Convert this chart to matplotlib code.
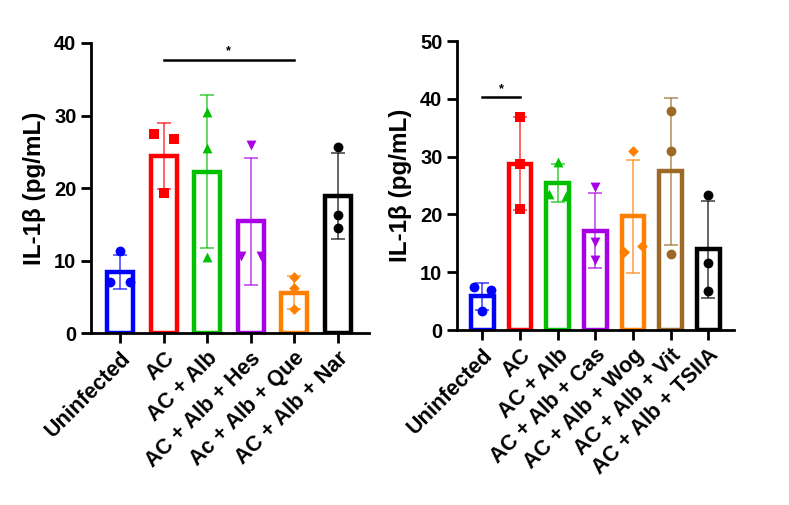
import numpy as np
import matplotlib
matplotlib.use("Agg")
import matplotlib.pyplot as plt

plt.rcParams['font.family'] = ['Liberation Sans', 'DejaVu Sans']
plt.rcParams['font.weight'] = 'bold'

# ---- left panel data ----
groups_a = ['Uninfected', 'AC', 'AC + Alb', 'AC + Alb + Hes', 'Ac + Alb + Que', 'AC + Alb + Nar']
means_a = [8.45, 24.45, 22.25, 15.45, 5.6, 18.9]
sd_a = [2.35, 4.55, 10.55, 8.75, 2.3, 5.9]
points_a = [
    [11.3, 7.1, 7.0],
    [27.5, 26.8, 19.4],
    [30.5, 25.5, 10.5],
    [25.9, 10.7, 10.7],
    [7.7, 6.2, 3.3],
    [25.7, 16.3, 14.5],
]

# ---- right panel data ----
groups_b = ['Uninfected', 'AC', 'AC + Alb', 'AC + Alb + Cas', 'AC + Alb + Wog', 'AC + Alb + Vit', 'AC + Alb + TSIIA']
means_b = [5.8, 28.8, 25.5, 17.2, 19.65, 27.45, 13.95]
sd_b = [2.3, 8.0, 3.3, 6.45, 9.75, 12.75, 8.45]
points_b = [
    [7.5, 6.9, 3.3],
    [36.9, 28.7, 20.9],
    [29.0, 23.5, 23.2],
    [24.8, 15.2, 12.1],
    [30.9, 13.5, 14.5],
    [37.9, 30.9, 13.2],
    [23.3, 11.6, 6.8],
]

colors_a = ['#0000FF', '#FF0000', '#00C000', '#A800E6', '#FF8000', '#000000']
markers_a = ['o', 's', '^', 'v', 'D', 'o']
colors_b = ['#0000FF', '#FF0000', '#00C000', '#A800E6', '#FF8000', '#9C6A26', '#000000']
markers_b = ['o', 's', '^', 'v', 'D', 'o', 'o']


def panel(ax, groups, means, sd, points, colors, markers, ymax, xmax_pad, sig, bw):
    x = np.arange(len(groups))
    ax.bar(x, means, width=bw, facecolor='white', edgecolor=colors, linewidth=3.2, zorder=2)
    thr = 0.028 * ymax
    for i in x:
        ax.errorbar(i, means[i], yerr=sd[i], color=colors[i], alpha=0.65, lw=1.3,
                    capsize=5, capthick=1.3, zorder=3)
        pts = points[i]
        offs = [0.0] * len(pts)
        for a in range(len(pts)):
            for b in range(a + 1, len(pts)):
                if abs(pts[a] - pts[b]) < thr:
                    offs[a] = -0.23
                    offs[b] = 0.23
        ax.scatter(i + np.array(offs), pts, marker=markers[i], color=colors[i],
                   s=50 if markers[i] != 'D' else 30, zorder=4, linewidths=0)
    ax.set_xlim(-0.67, len(groups) - 1 + xmax_pad)
    ax.set_ylim(0, ymax)
    ax.set_yticks(np.arange(0, ymax + 1, 10))
    ax.set_xticks(x)
    ax.set_xticklabels(groups, rotation=45, ha='right', rotation_mode='anchor',
                       fontsize=15.5, fontweight='bold')
    for lab in ax.get_yticklabels():
        lab.set_fontsize(14.5)
        lab.set_fontweight('bold')
    ax.spines['top'].set_visible(False)
    ax.spines['right'].set_visible(False)
    ax.spines['left'].set_linewidth(2)
    ax.spines['bottom'].set_linewidth(2)
    ax.tick_params(axis='both', length=7.5, width=2, direction='out', pad=3)
    ax.set_ylabel('IL-1β (pg/mL)', fontsize=17.5, fontweight='bold', labelpad=6)
    g0, g1, yv = sig
    ax.plot([g0, g1], [yv, yv], color='black', lw=1.8, clip_on=False)
    ax.text((g0 + g1) / 2, yv + ymax * 0.008, '*', ha='center', va='bottom', fontsize=9)


fig = plt.figure(figsize=(7.89, 5.05), dpi=100)
ax1 = fig.add_axes([91 / 789, 1 - 333.3 / 505, (369.3 - 91) / 789, (333.3 - 43) / 505])
ax2 = fig.add_axes([457 / 789, 1 - 330 / 505, (734.3 - 457) / 789, (330 - 41) / 505])

panel(ax1, groups_a, means_a, sd_a, points_a, colors_a, markers_a, 40, 0.73, (1, 4, 37.7), 0.6)
panel(ax2, groups_b, means_b, sd_b, points_b, colors_b, markers_b, 50, 0.69, (0, 1, 40.3), 0.6)

fig.savefig('out.png', dpi=100)
